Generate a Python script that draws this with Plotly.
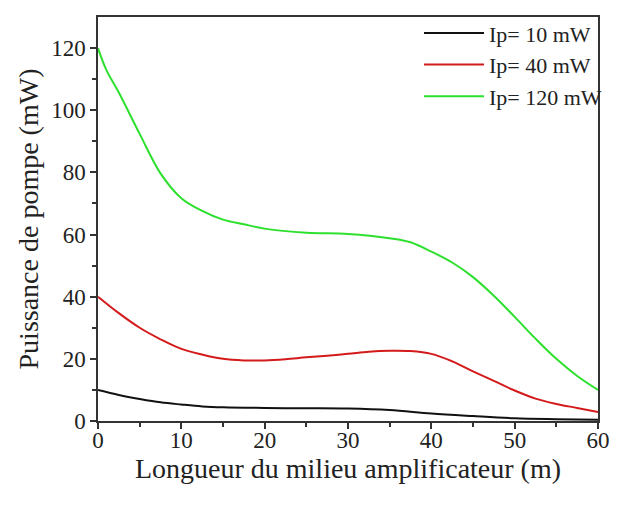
import plotly.graph_objects as go

# Data
x_10 = [0, 2.5, 5, 7.5, 10, 12.5, 15, 20, 25, 30, 35, 40, 45, 50, 55, 60]
p_10 = [10, 8.4, 7.1, 6.0, 5.3, 4.7, 4.4, 4.2, 4.1, 4.0, 3.5, 2.4, 1.6, 0.9, 0.6, 0.4]

x_40 = [0, 2.5, 5, 7.5, 10, 12.5, 15, 17.5, 20, 22.5, 25, 27.5, 30, 32.5, 35, 37.5,
        40, 42.5, 45, 47.5, 50, 52.5, 55, 57.5, 60]
p_40 = [40, 34.7, 30, 26.3, 23.2, 21.4, 20, 19.5, 19.5, 19.9, 20.5, 21, 21.6, 22.3, 22.6, 22.5,
        21.6, 19.2, 16, 12.9, 9.8, 7.2, 5.5, 4.2, 2.9]

x_120 = [0, 1, 2.5, 5, 7.5, 10, 12.5, 15, 17.5, 20, 25, 30, 35, 37.5, 40, 42.5, 45,
         47.5, 50, 52.5, 55, 57.5, 60]
p_120 = [120, 113, 105.7, 92.4, 79.7, 71.7, 67.6, 64.8, 63.3, 61.9, 60.6, 60.2, 58.8, 57.5,
         54.5, 51, 46.3, 40.3, 33.5, 26.5, 20, 14.5, 10]

names = ["Ip= 10 mW", "Ip= 40 mW", "Ip= 120 mW"]
colors = ["#111111", "#d41a1a", "#2ee02e"]

fig = go.Figure()
for xs, ys, n, c in zip([x_10, x_40, x_120], [p_10, p_40, p_120], names, colors):
    fig.add_trace(go.Scatter(x=xs, y=ys, mode="lines", name=n,
                             line=dict(color=c, width=2, shape="spline", smoothing=1.0)))

serif = "Liberation Serif, Times New Roman, serif"
axis_common = dict(
    showline=True, linecolor="#333333", linewidth=1.5, mirror=True,
    ticks="outside", ticklen=6, tickwidth=1.5, tickcolor="#333333",
    showgrid=False, zeroline=False, automargin=False, ticklabeloverflow="allow",
    tickfont=dict(family=serif, size=23, color="#222222"),
)

fig.update_layout(
    width=619, height=508,
    margin=dict(l=98, r=13, t=14, b=87),
    paper_bgcolor="white", plot_bgcolor="white",
    showlegend=True,
    legend=dict(x=1.018, y=1.012, xanchor="right", yanchor="top",
                bgcolor="rgba(0,0,0,0)", font=dict(family=serif, size=22, color="#222222"),
                itemwidth=60, tracegroupgap=0),
    xaxis=dict(range=[0, 60], tickvals=[0, 10, 20, 30, 40, 50, 60],
               minor=dict(ticks="outside", ticklen=4, tickwidth=1.5, tickcolor="#333333",
                          tickvals=[5, 15, 25, 35, 45, 55]),
               ticklabelstandoff=-8,
               title=dict(text="Longueur du milieu amplificateur (m)",
                          font=dict(family=serif, size=28, color="#222222"), standoff=2),
               **axis_common),
    yaxis=dict(range=[0, 130], tickvals=[0, 20, 40, 60, 80, 100, 120],
               minor=dict(ticks="outside", ticklen=4, tickwidth=1.5, tickcolor="#333333",
                          tickvals=[10, 30, 50, 70, 90, 110]),
               title=dict(text="Puissance de pompe (mW)",
                          font=dict(family=serif, size=28, color="#222222"), standoff=4),
               **axis_common),
)

# Remove the default page margin so the figure fills the window.
fig.write_html("out.html",
               config={"displayModeBar": False},
               post_script="document.body.style.margin='0';document.body.style.overflow='hidden';")
